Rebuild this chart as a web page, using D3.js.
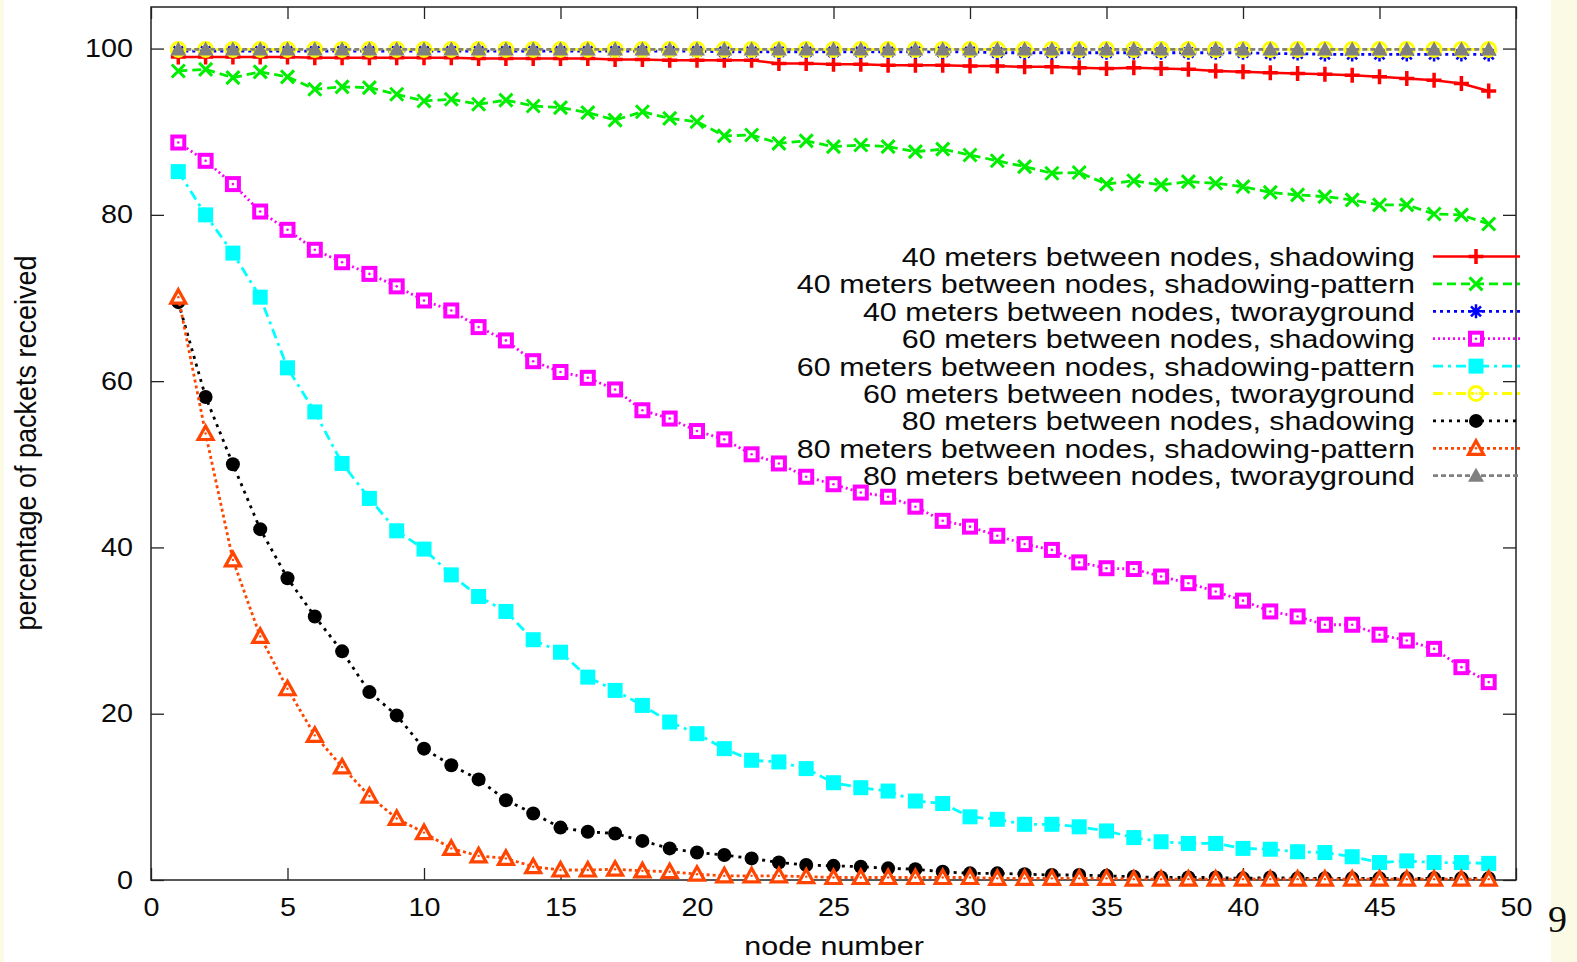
<!DOCTYPE html>
<html>
<head>
<meta charset="utf-8">
<script src="https://cdn.jsdelivr.net/npm/d3@7"></script>
<style>
    body { margin: 0; background: #fff; }
    svg { display: block; }
    text { font-family: "Liberation Sans", Arial, sans-serif; fill: #0a0a0a; }
</style>
</head>
<body>
<div id="chart"></div>
<script>
var nodes = [1, 2, 3, 4, 5, 6, 7, 8, 9, 10, 11, 12, 13, 14, 15, 16, 17, 18, 19, 20,
    21, 22, 23, 24, 25, 26, 27, 28, 29, 30, 31, 32, 33, 34, 35, 36, 37, 38, 39, 40,
    41, 42, 43, 44, 45, 46, 47, 48, 49];

var shadow40 = [99.0, 99.0, 99.0, 99.0, 99.0, 98.9, 98.9, 98.9, 98.9, 98.9,
    98.9, 98.8, 98.8, 98.8, 98.8, 98.8, 98.7, 98.7, 98.6, 98.6,
    98.6, 98.6, 98.2, 98.2, 98.1, 98.1, 98.0, 98.0, 98.0, 97.9,
    97.9, 97.8, 97.8, 97.7, 97.6, 97.7, 97.6, 97.5, 97.3, 97.2,
    97.1, 97.0, 96.9, 96.8, 96.6, 96.4, 96.2, 95.8, 94.9];
var pattern40 = [97.3, 97.5, 96.5, 97.2, 96.6, 95.1, 95.4, 95.3, 94.5, 93.7,
    93.9, 93.3, 93.8, 93.1, 92.9, 92.3, 91.4, 92.4, 91.6, 91.2,
    89.5, 89.6, 88.6, 88.9, 88.2, 88.4, 88.2, 87.6, 87.9, 87.2,
    86.5, 85.8, 85.0, 85.1, 83.7, 84.1, 83.6, 84.0, 83.8, 83.4,
    82.7, 82.4, 82.2, 81.8, 81.2, 81.2, 80.1, 80.0, 78.9];
var tworay40 = [99.7, 99.7, 99.7, 99.7, 99.7, 99.7, 99.7, 99.7, 99.7, 99.7,
    99.7, 99.7, 99.7, 99.7, 99.7, 99.7, 99.7, 99.7, 99.7, 99.7,
    99.6, 99.6, 99.6, 99.6, 99.6, 99.6, 99.6, 99.6, 99.6, 99.6,
    99.5, 99.5, 99.5, 99.5, 99.5, 99.5, 99.5, 99.5, 99.5, 99.5,
    99.4, 99.4, 99.3, 99.3, 99.3, 99.3, 99.3, 99.3, 99.3];
var shadow60 = [88.7, 86.5, 83.7, 80.4, 78.2, 75.8, 74.3, 72.9, 71.4, 69.7,
    68.5, 66.5, 64.9, 62.4, 61.1, 60.4, 59.0, 56.5, 55.5, 54.0,
    53.0, 51.2, 50.1, 48.5, 47.6, 46.6, 46.1, 44.9, 43.2, 42.5,
    41.4, 40.4, 39.7, 38.2, 37.5, 37.4, 36.5, 35.7, 34.7, 33.6,
    32.3, 31.7, 30.7, 30.7, 29.5, 28.8, 27.8, 25.6, 23.8];
var pattern60 = [85.2, 80.0, 75.4, 70.1, 61.6, 56.3, 50.1, 45.9, 42.0, 39.8,
    36.7, 34.1, 32.3, 28.9, 27.4, 24.4, 22.8, 21.0, 19.0, 17.6,
    15.8, 14.4, 14.2, 13.4, 11.7, 11.1, 10.7, 9.5, 9.2, 7.6,
    7.3, 6.7, 6.7, 6.4, 5.9, 5.1, 4.6, 4.4, 4.4, 3.8,
    3.7, 3.4, 3.3, 2.8, 2.1, 2.3, 2.1, 2.1, 2.0];
var tworay60 = [99.9, 99.9, 99.9, 99.9, 99.9, 99.9, 99.9, 99.9, 99.9, 99.9,
    99.9, 99.9, 99.9, 99.9, 99.9, 99.9, 99.9, 99.9, 99.9, 99.9,
    99.9, 99.9, 99.9, 99.9, 99.9, 99.9, 99.9, 99.9, 99.9, 99.9,
    99.9, 99.9, 99.9, 99.9, 99.9, 99.9, 99.9, 99.9, 99.9, 99.9,
    99.9, 99.9, 99.9, 99.9, 99.9, 99.9, 99.9, 99.9, 99.9];
var shadow80 = [69.5, 58.1, 50.0, 42.2, 36.3, 31.7, 27.5, 22.6, 19.8, 15.8,
    13.8, 12.1, 9.6, 8.0, 6.3, 5.8, 5.6, 4.7, 3.8, 3.3,
    3.0, 2.6, 2.1, 1.8, 1.7, 1.6, 1.4, 1.3, 1.0, 0.8,
    0.8, 0.7, 0.6, 0.6, 0.5, 0.4, 0.3, 0.3, 0.3, 0.2,
    0.3, 0.2, 0.2, 0.2, 0.2, 0.2, 0.2, 0.2, 0.2];
var pattern80 = [70.1, 53.7, 38.5, 29.3, 23.0, 17.4, 13.6, 10.1, 7.4, 5.7,
    3.8, 2.9, 2.6, 1.6, 1.2, 1.2, 1.3, 1.1, 1.0, 0.7,
    0.5, 0.5, 0.5, 0.4, 0.3, 0.3, 0.3, 0.3, 0.3, 0.3,
    0.2, 0.2, 0.2, 0.2, 0.2, 0.1, 0.1, 0.1, 0.1, 0.1,
    0.1, 0.1, 0.1, 0.1, 0.1, 0.1, 0.1, 0.1, 0.1];
var tworay80 = [99.9, 99.9, 99.9, 99.9, 99.9, 99.9, 99.9, 99.9, 99.9, 99.9,
    99.9, 99.9, 99.9, 99.9, 99.9, 99.9, 99.9, 99.9, 99.9, 99.9,
    99.9, 99.9, 99.9, 99.9, 99.9, 99.9, 99.9, 99.9, 99.9, 99.9,
    99.9, 99.9, 99.9, 99.9, 99.9, 99.9, 99.9, 99.9, 99.9, 99.9,
    99.9, 99.9, 99.9, 99.9, 99.9, 99.9, 99.9, 99.9, 99.9];

var seriesNames = [
    "40 meters between nodes, shadowing",
    "40 meters between nodes, shadowing-pattern",
    "40 meters between nodes, tworayground",
    "60 meters between nodes, shadowing",
    "60 meters between nodes, shadowing-pattern",
    "60 meters between nodes, tworayground",
    "80 meters between nodes, shadowing",
    "80 meters between nodes, shadowing-pattern",
    "80 meters between nodes, tworayground"
];
var seriesValues = [shadow40, pattern40, tworay40, shadow60, pattern60, tworay60, shadow80, pattern80, tworay80];
var seriesColors = ["#ff0000", "#00ee00", "#0000ff", "#ff00ff", "#00ffff", "#ffff00", "#000000", "#ff4500", "#808080"];
var seriesDash = [null, "9,5", "3,4", "2,3", "10,5,3,5", "10,5,3,5", "3,5", "3,3", "5,3"];
var seriesMarker = ["plus", "cross", "star", "boxOpen", "box", "circleOpen", "circle", "triOpen", "tri"];

var xTicks = [0, 5, 10, 15, 20, 25, 30, 35, 40, 45, 50];
var yTicks = [0, 20, 40, 60, 80, 100];

var W = 1577, H = 962;
var plotLeft = 151, plotRight = 1516, plotTop = 7, plotBottom = 880;
var stretch = 1.15;

var svg = d3.select("#chart").append("svg")
    .attr("width", W)
    .attr("height", H);

svg.append("rect").attr("width", W).attr("height", H).attr("fill", "#fff");
// slide background strips
svg.append("rect").attr("x", 1551).attr("y", 0).attr("width", W - 1551).attr("height", H).attr("fill", "#fbfae4");
svg.append("rect").attr("x", 0).attr("y", 0).attr("width", 4).attr("height", H).attr("fill", "#fbfae4");

var x = d3.scaleLinear().domain([0, 50]).range([plotLeft, plotRight]);
var y = d3.scaleLinear().domain([0, 105]).range([plotBottom, plotTop]);

// axes (ticks point inward, mirrored on top / right)
var gx = svg.append("g").attr("transform", "translate(0," + plotBottom + ")")
    .call(d3.axisBottom(x).tickValues(xTicks).tickSize(-12).tickPadding(18).tickFormat(d3.format("d")));
var gxt = svg.append("g").attr("transform", "translate(0," + plotTop + ")")
    .call(d3.axisTop(x).tickValues(xTicks).tickSize(-12).tickFormat(""));
var gy = svg.append("g").attr("transform", "translate(" + plotLeft + ",0)")
    .call(d3.axisLeft(y).tickValues(yTicks).tickSize(-13).tickPadding(16).tickFormat(d3.format("d")));
var gyr = svg.append("g").attr("transform", "translate(" + plotRight + ",0)")
    .call(d3.axisRight(y).tickValues(yTicks).tickSize(-13).tickFormat(""));

[gx, gxt, gy, gyr].forEach(function(g) {
    g.select(".domain").remove();
    g.selectAll(".tick line").attr("stroke", "#222").attr("stroke-width", 1.3);
    g.selectAll("text")
        .style("font-family", "'Liberation Sans', Arial, sans-serif")
        .style("font-size", "25px")
        .attr("fill", "#0a0a0a");
});
gx.selectAll(".tick text").attr("transform", "scale(" + stretch + ",1)");
gy.selectAll(".tick text").attr("transform", "scale(" + stretch + ",1)").attr("x", -18 / stretch);

svg.append("rect")
    .attr("x", plotLeft).attr("y", plotTop)
    .attr("width", plotRight - plotLeft).attr("height", plotBottom - plotTop)
    .attr("fill", "none").attr("stroke", "#222").attr("stroke-width", 1.5);

// axis titles
svg.append("text")
    .attr("transform", "translate(" + 834 + "," + 955 + ") scale(" + stretch + ",1)")
    .attr("text-anchor", "middle")
    .style("font-size", "26.5px")
    .text("node number");

svg.append("text")
    .attr("transform", "translate(" + 36 + "," + 443 + ") rotate(-90) scale(1,1.1)")
    .attr("text-anchor", "middle")
    .style("font-size", "27px")
    .text("percentage of packets received");

svg.append("text")
    .attr("x", 1548).attr("y", 932)
    .style("font-family", "'Liberation Serif', 'Times New Roman', serif")
    .style("font-size", "38px")
    .text("9");

function drawMarker(g, type, color)
{
    switch (type)
    {
        case "plus":
            g.append("path").attr("d", "M-7.5,0H7.5M0,-7.5V7.5")
                .attr("stroke", color).attr("stroke-width", 3.5).attr("fill", "none");
            break;
        case "cross":
            g.append("path").attr("d", "M-6.5,-6.5L6.5,6.5M-6.5,6.5L6.5,-6.5")
                .attr("stroke", color).attr("stroke-width", 3).attr("fill", "none");
            break;
        case "star":
            g.append("path").attr("d", "M-7,0H7M0,-7V7M-5,-5L5,5M-5,5L5,-5")
                .attr("stroke", color).attr("stroke-width", 2.5).attr("fill", "none");
            break;
        case "boxOpen":
            g.append("rect").attr("x", -6).attr("y", -6).attr("width", 12).attr("height", 12)
                .attr("fill", "#fff").attr("stroke", color).attr("stroke-width", 4);
            g.append("circle").attr("r", 1.3).attr("fill", color);
            break;
        case "box":
            g.append("rect").attr("x", -7.5).attr("y", -7.5).attr("width", 15).attr("height", 15)
                .attr("fill", color);
            break;
        case "circleOpen":
            g.append("circle").attr("r", 7).attr("fill", "none")
                .attr("stroke", color).attr("stroke-width", 3);
            g.append("circle").attr("r", 1.3).attr("fill", color);
            break;
        case "circle":
            g.append("circle").attr("r", 7).attr("fill", color);
            break;
        case "triOpen":
            g.append("path").attr("d", "M0,-7.5L7.5,6L-7.5,6Z")
                .attr("fill", "#fff").attr("stroke", color).attr("stroke-width", 3.2)
                .attr("stroke-linejoin", "miter");
            g.append("circle").attr("r", 1.2).attr("fill", color);
            break;
        case "tri":
            g.append("path").attr("d", "M0,-8L8,6L-8,6Z").attr("fill", color);
            break;
    }
}

var line = d3.line()
    .x(function(d) { return x(d.node); })
    .y(function(d) { return y(d.value); });

seriesValues.forEach(function(values, i) {
    var pts = nodes.map(function(n, k) { return { node: n, value: values[k] }; });
    var g = svg.append("g").attr("class", "series");

    g.append("path")
        .datum(pts)
        .attr("d", line)
        .attr("fill", "none")
        .attr("stroke", seriesColors[i])
        .attr("stroke-width", i == 0 ? 2.5 : 2.8)
        .attr("stroke-dasharray", seriesDash[i]);

    g.selectAll(".pt")
        .data(pts)
        .enter().append("g")
        .attr("class", "pt")
        .attr("transform", function(d) { return "translate(" + x(d.node) + "," + y(d.value) + ")"; })
        .each(function() { drawMarker(d3.select(this), seriesMarker[i], seriesColors[i]); });
});

// legend
var legend = svg.append("g").attr("class", "legend");
seriesNames.forEach(function(name, i) {
    var ly = 256.5 + i * 27.4;
    legend.append("text")
        .attr("transform", "translate(1415," + ly + ") scale(" + stretch + ",1)")
        .attr("text-anchor", "end")
        .attr("dy", "0.36em")
        .style("font-size", "26.5px")
        .text(name);
    legend.append("line")
        .attr("x1", 1433).attr("x2", 1520)
        .attr("y1", ly).attr("y2", ly)
        .attr("stroke", seriesColors[i])
        .attr("stroke-width", i == 0 ? 2.5 : 2.8)
        .attr("stroke-dasharray", seriesDash[i]);
    drawMarker(legend.append("g").attr("transform", "translate(1476," + ly + ")"), seriesMarker[i], seriesColors[i]);
});
</script>
</body>
</html>
